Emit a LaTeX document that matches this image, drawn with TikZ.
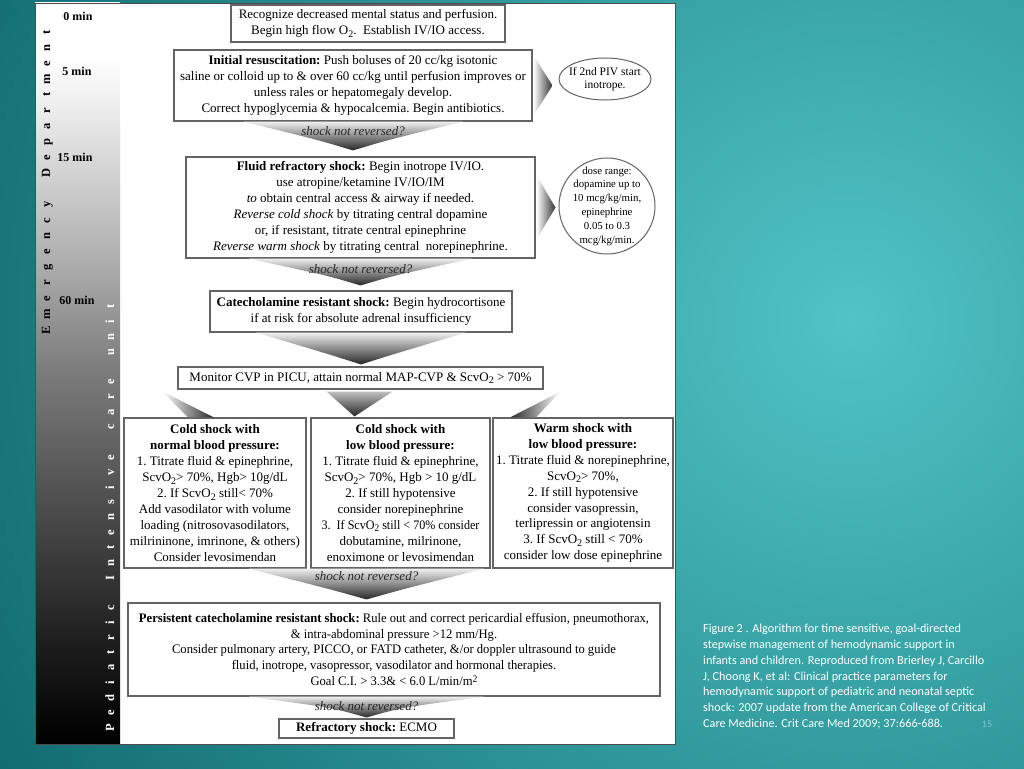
\documentclass[tikz,border=0pt]{standalone}
\usepackage{fontspec}
\setmainfont{Liberation Serif}
\newfontfamily\narrowfont{Liberation Serif}[FakeStretch=0.93]
\newfontfamily\condfont{Liberation Serif}[FakeStretch=0.97]
\newfontfamily\capfont{Carlito}
\usetikzlibrary{calc,shapes.geometric}
\definecolor{bgdark}{RGB}{14,104,108}
\definecolor{bglight}{RGB}{80,196,199}
\definecolor{edge}{RGB}{100,100,100}
\definecolor{pgnum}{RGB}{125,200,200}
\newcommand\bxf{\fontsize{13}{15.9}\selectfont\frenchspacing}
\newcommand\smf{\fontsize{11.5}{13.6}\selectfont\frenchspacing}
\newcommand\dn[1]{\raisebox{-0.45ex}{\fontsize{10}{10}\selectfont #1}}
\newcommand\upx[1]{\raisebox{0.55ex}{\fontsize{10}{10}\selectfont #1}}
\newcommand\funnel[3]{%
  \shade[top color=black!6, bottom color=black!85]
    ($(#1)+(-#3,0)$) .. controls ($(#2)+(-0.3*#3,-10)$) .. (#2)
    .. controls ($(#2)+(0.3*#3,-10)$) .. ($(#1)+(#3,0)$) -- cycle;}
\pgfdeclareverticalshading{barshade}{100bp}{color(0bp)=(black); color(25bp)=(black); color(31bp)=(black!90); color(40bp)=(black!72); color(50bp)=(black!52); color(57.5bp)=(black!32); color(67.5bp)=(black!8); color(71.5bp)=(white); color(100bp)=(white)}
\tikzset{
  box/.style={draw=edge, line width=1.1pt, fill=white, inner sep=0pt},
  txt/.style={align=center, inner sep=0pt, font=\bxf},
  oval/.style={draw=edge, line width=1pt, fill=white, inner sep=0pt},
  vl/.style={rotate=90, anchor=base, inner sep=0pt, font=\fontsize{12.5}{12.5}\selectfont\bfseries},
  ml/.style={inner sep=0pt, font=\fontsize{12}{12}\selectfont\bfseries},
  ql/.style={inner sep=0pt, font=\fontsize{13}{13}\selectfont\itshape, text=black!85}
}
\begin{document}
\begin{tikzpicture}[x=1pt,y=-1pt]
\useasboundingbox (0,0) rectangle (1024,768);
% background
\fill[bgdark] (0,0) rectangle (1024,768);
\begin{scope}
\clip (0,0) rectangle (1024,768);
\shade[inner color=bglight, outer color=bgdark] (850,320) circle (1000);
\end{scope}
% panel
\fill[white] (35,3) rectangle (675,744);
\shade[shading=barshade] (35,3) rectangle (120,744);
\draw[black!70, line width=0.8pt] (35,3) rectangle (675,744);

% time labels
\node[ml] (m0) at (78,16) {0 min};
\node[ml] (m5) at (77,71) {5 min};
\node[ml] (m15) at (75,157) {15 min};
\node[ml] (m60) at (77,300) {60 min};
\foreach \c [count=\i] in {E,m,e,r,g,e,n,c,y,{},D,e,p,a,r,t,m,e,n,t}
  \node[vl, text=black] (ed\i) at (50,{330-(\i-1)*15.68}) {\c};
\foreach \c [count=\i] in {P,e,d,i,a,t,r,i,c,{},I,n,t,e,n,s,i,v,e,{},c,a,r,e,{},u,n,i,t}
  \node[vl, text=white] (pi\i) at (114,{728-(\i-1)*15.04}) {\c};

% box shapes
\path
 (368,23.5) node[box, minimum width=274pt, minimum height=37pt] (b1) {}
 (353,85.5) node[box, minimum width=358pt, minimum height=71pt] (b2) {}
 (360.5,207.5) node[box, minimum width=349pt, minimum height=101pt] (b3) {}
 (361,311.5) node[box, minimum width=302pt, minimum height=41pt] (b4) {}
 (360.5,378) node[box, minimum width=365pt, minimum height=22pt] (b5) {}
 (215,493) node[box, minimum width=182pt, minimum height=150pt] (b6a) {}
 (400.5,493) node[box, minimum width=179pt, minimum height=150pt] (b6b) {}
 (583,493) node[box, minimum width=180pt, minimum height=150pt] (b6c) {}
 (394,649.5) node[box, minimum width=532pt, minimum height=93pt] (b7) {}
 (366.5,728.5) node[box, minimum width=175pt, minimum height=19pt] (b8) {}
 (605,79) node[oval, ellipse, minimum width=92pt, minimum height=42pt] (e1) {}
 (607,206) node[oval, circle, minimum size=96pt] (c1) {};

% funnels
\coordinate (t1) at ($(b2.south |- b3.north)+(0,-6)$);
\funnel{b2.south}{t1}{110}
\coordinate (t2) at ($(b3.south |- b4.north)+(0,-5)$);
\funnel{b3.south}{t2}{112}
\coordinate (t3) at ($(b4.south |- b5.north)+(0,-2)$);
\funnel{b4.south}{t3}{105}
\coordinate (f4t) at (b8.north |- b6b.south);
\coordinate (t4) at ($(b8.north |- b7.north)+(0,-3)$);
\funnel{f4t}{t4}{118}
\coordinate (f5t) at (b8.north |- b7.south);
\coordinate (t5) at ($(b8.north)+(0,-1)$);
\funnel{f5t}{t5}{118}

% side arrows
\shade[left color=white, right color=black!80]
  ($(b2.east)+(1,-30)$) -- ($(b2.east)+(1,30)$) -- ($(b2.east -| e1.west)+(-6,0)$) -- cycle;
\shade[left color=white, right color=black!80]
  ($(b3.east)+(1,-32)$) -- ($(b3.east)+(1,32)$) -- ($(b3.east -| c1.west)+(-3,0)$) -- cycle;
% branch arrows
\shade[left color=white, right color=black!85]
  ($(b5.south west)+(-15,2)$) -- ($(b6a.north)+(-1,0)$) -- ($(b6a.north)+(-27,0)$) -- cycle;
\shade[top color=black!25, bottom color=black!85]
  ($(b5.south)+(-34,2)$) -- ($(b5.south)+(32,2)$) -- ($(b5.south |- b6b.north)+(-6,-1)$) -- cycle;
\shade[left color=black!85, right color=white]
  ($(b5.south east)+(17,2)$) -- ($(b6c.north)+(-47,0)$) -- ($(b6c.north)+(-73,0)$) -- cycle;

% texts
\node[txt] (x1) at (b1) {Recognize decreased mental status and perfusion.\\ Begin high flow O\dn{2}.\ \ Establish IV/IO access.};
\node[txt] (x2) at (b2) {\textbf{Initial resuscitation:} Push boluses of 20 cc/kg isotonic\\ saline or colloid up to \& over 60 cc/kg until perfusion improves or\\ unless rales or hepatomegaly develop.\\ Correct hypoglycemia \& hypocalcemia. Begin antibiotics.};
\node[txt] (x3) at (b3) {\textbf{Fluid refractory shock:} Begin inotrope IV/IO.\\ use atropine/ketamine IV/IO/IM\\ \textit{to} obtain central access \& airway if needed.\\ \textit{Reverse cold shock} by titrating central dopamine\\ or, if resistant, titrate central epinephrine\\ \textit{Reverse warm shock} by titrating central\ \ norepinephrine.};
\node[txt] (x4) at (b4) {\textbf{Catecholamine resistant shock:} Begin hydrocortisone\\ if at risk for absolute adrenal insufficiency};
\node[txt] (x5) at (b5) {Monitor CVP in PICU, attain normal MAP-CVP \& ScvO\dn{2} > 70\%};
\node[txt] (x6a) at (b6a) {\textbf{Cold shock with}\\ \textbf{normal blood pressure:}\\ 1. Titrate fluid \& epinephrine,\\ ScvO\dn{2}> 70\%, Hgb> 10g/dL\\ 2. If ScvO\dn{2} still< 70\%\\ Add vasodilator with volume\\ loading (nitrosovasodilators,\\ milrininone, imrinone, \& others)\\ Consider levosimendan};
\node[txt] (x6b) at (b6b) {\textbf{Cold shock with}\\ \textbf{low blood pressure:}\\ 1. Titrate fluid \& epinephrine,\\ ScvO\dn{2}> 70\%, Hgb > 10 g/dL\\ 2. If still hypotensive\\ consider norepinephrine\\ {\narrowfont 3.\ \ If ScvO\dn{2} still < 70\% consider}\\ dobutamine, milrinone,\\ enoximone or levosimendan};
\node[txt] (x6c) at (b6c) {\textbf{Warm shock with}\\ \textbf{low blood pressure:}\\ 1. Titrate fluid \& norepinephrine,\\ ScvO\dn{2}> 70\%,\\ 2. If still hypotensive\\ consider vasopressin,\\ terlipressin or angiotensin\\ 3. If ScvO\dn{2} still < 70\%\\ consider low dose epinephrine};
\node[txt, font=\condfont\fontsize{13}{15.9}\selectfont\frenchspacing] (x7) at (b7) {\textbf{Persistent catecholamine resistant shock:} Rule out and correct pericardial effusion, pneumothorax,\\ \& intra-abdominal pressure >12 mm/Hg.\\ Consider pulmonary artery, PICCO, or FATD catheter, \&/or doppler ultrasound to guide\\ fluid, inotrope, vasopressor, vasodilator and hormonal therapies.\\ Goal C.I. > 3.3\& < 6.0 L/min/m\upx{2}};
\node[txt] (x8) at (b8) {\textbf{Refractory shock:} ECMO};
\node[txt, font=\smf] (xe) at (e1) {If 2nd PIV start\\ inotrope.};
\node[txt, font=\fontsize{10.8}{13.8}\selectfont\frenchspacing] (xc) at (c1) {dose range:\\ dopamine up to\\ 10 mcg/kg/min,\\ epinephrine\\ 0.05 to 0.3\\ mcg/kg/min.};

% funnel labels
\node[ql] (q1) at ($(b2.south)+(0,10)$) {shock not reversed?};
\node[ql] (q2) at ($(b3.south)+(0,11)$) {shock not reversed?};
\node[ql] (q4) at ($(f4t)+(0,8)$) {shock not reversed?};
\node[ql] (q5) at ($(f5t)+(0,10)$) {shock not reversed?};

% caption
\node[anchor=north west, align=left, inner sep=0pt, text=white, font=\capfont\fontsize{12.2}{15.8}\selectfont] (cap) at (703,624)
 {Figure 2 . Algorithm for time sensitive, goal-directed\\ stepwise management of hemodynamic support in\\ infants and children. Reproduced from Brierley J, Carcillo\\ J, Choong K, et al: Clinical practice parameters for\\ hemodynamic support of pediatric and neonatal septic\\ shock: 2007 update from the American College of Critical\\ Care Medicine. Crit Care Med 2009; 37:666-688.};
\node[inner sep=0pt, text=pgnum, font=\capfont\fontsize{10}{10}\selectfont] (pg) at (987,724) {15};
\end{tikzpicture}
\end{document}
